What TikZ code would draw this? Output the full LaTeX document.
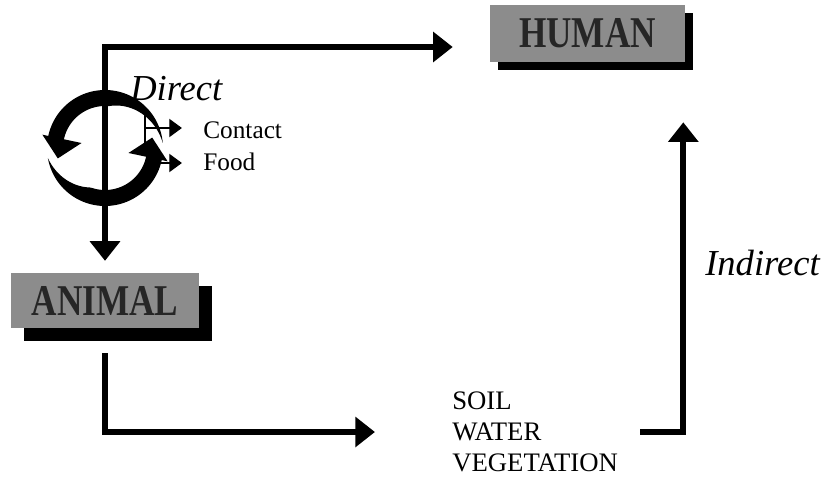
\documentclass[tikz,border=0pt]{standalone}
\usepackage{fontspec}
\setmainfont{Liberation Serif}
\usepackage{tikz}
\usetikzlibrary{
  arrows.meta,
  shadows,
  calc
}
\tikzset{
  host box/.style={
    fill=black!45,
    inner sep=0pt,
    font=\fontsize{25}{25}\selectfont\bfseries,
    text=black!85,
    drop shadow={shadow xshift=#1, shadow yshift=-#1, fill=black, opacity=1}
  },
  route line/.style={
    line width=4pt,
    >={Triangle[length=14pt,width=21pt]}
  },
  small route/.style={
    line width=0.8pt,
    -{Triangle[length=9pt,width=13pt]}
  },
  route label/.style={
    anchor=base west,
    inner sep=0pt,
    font=\fontsize{26}{26}\selectfont\itshape
  },
  way label/.style={
    anchor=base west,
    inner sep=0pt,
    font=\fontsize{18}{18}\selectfont
  }
}

\begin{document}
\begin{tikzpicture}[x=0.025cm, y=-0.025cm]
\useasboundingbox (0,0) rectangle (834,486);

% hosts
\node[host box=6pt, minimum width=138.7pt, minimum height=40.5pt]
  (human) at (587.5,33.5) {\scalebox{1}[1.25]{HUMAN}};
\node[host box=9pt, minimum width=133.7pt, minimum height=39pt]
  (animal) at (105,300.5) {\scalebox{1}[1.25]{ANIMAL}};
\node[anchor=west, inner sep=0pt, align=left,
  font=\fontsize{19}{22}\selectfont]
  (media) at (452,432) {SOIL\\WATER\\VEGETATION};

% routes
\draw[route line, <->, shorten <=8.5pt, shorten >=26.3pt]
  (animal.north) |- ($(human.west)+(0,13.5)$);
\draw[route line, ->, shorten <=17.8pt, shorten >=54.8pt]
  (animal.south) |- (media.west);
\draw[route line, ->, shorten <=15.6pt, shorten >=42.7pt]
  (media.east) -| ($(human.south east)+(-2,0)$);

% cycle of direct contact
\begin{scope}[shift={(105,148)}, yscale=-1]
\fill plot[domain=5:168, samples=60] (\x:58) -- (168:64)
  -- ($(168:44)+(258:20)$) -- (168:24)
  -- plot[domain=168:5, samples=60] (\x:{58-16*min(1,(\x-5)/80)}) -- cycle;
\fill plot[domain=190:348, samples=60] (\x:58) -- (348:64)
  -- ($(348:44)+(78:20)$) -- (348:24)
  -- plot[domain=348:190, samples=60] (\x:{58-16*min(1,(\x-190)/60)}) -- cycle;
\end{scope}
\draw[line width=0.8pt] (145,113) -- (145,148);

% labels
\node[route label] (direct) at (130,100) {Direct};
\node[route label] (indirect) at (705,275) {Indirect};
\node[way label] (contact) at (203,138) {Contact};
\node[way label] (food) at (203,170) {Food};

\coordinate (contactfrom) at (145,128);
\coordinate (foodfrom) at (160,163);
\draw[small route, shorten >=15pt] (contactfrom) -- (contactfrom -| contact.west);
\draw[small route, shorten >=15pt] (foodfrom) -- (foodfrom -| food.west);
\end{tikzpicture}
\end{document}
